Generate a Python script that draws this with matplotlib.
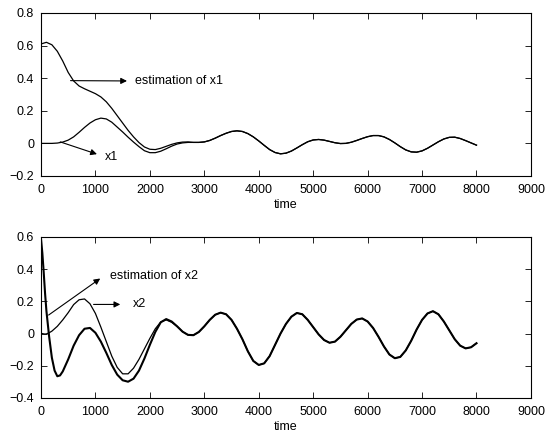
import matplotlib
matplotlib.use("Agg")
import matplotlib.pyplot as plt

plt.rcParams["font.family"] = ["Liberation Sans", "DejaVu Sans"]
plt.rcParams["font.size"] = 9

# upper plot: x1 and its estimate, sampled every 100 time units
t_top = list(range(0, 8001, 100))

tail_1 = [0.006, 0.006, 0.009, 0.018, 0.032, 0.048, 0.062, 0.073, 0.077, 0.073,
          0.060, 0.040, 0.015, -0.012, -0.038, -0.056, -0.064, -0.060, -0.047,
          -0.028, -0.008, 0.010, 0.021, 0.024, 0.020, 0.012, 0.004, -0.001, 0.000,
          0.007, 0.018, 0.030, 0.041, 0.048, 0.048, 0.040, 0.024, 0.003, -0.020,
          -0.040, -0.052, -0.054, -0.046, -0.030, -0.010, 0.010, 0.027, 0.037,
          0.038, 0.030, 0.017, 0.003, -0.011]

x1 = [0.0, 0.0, 0.0, 0.002, 0.008, 0.020, 0.040, 0.068, 0.098, 0.125, 0.145,
      0.155, 0.150, 0.130, 0.100, 0.070, 0.038, 0.008, -0.020, -0.045, -0.057,
      -0.057, -0.048, -0.033, -0.017, -0.004, 0.003, 0.006] + tail_1

est_x1 = [0.61, 0.62, 0.605, 0.565, 0.505, 0.435, 0.383, 0.352, 0.335, 0.32, 0.305,
          0.285, 0.255, 0.215, 0.17, 0.125, 0.08, 0.04, 0.005, -0.022, -0.036,
          -0.038, -0.030, -0.018, -0.006, 0.003, 0.008, 0.009] + tail_1

# lower plot: x2 and its estimate, finer steps at the start
t_bot = [0, 25, 50, 75, 100, 150, 200, 250, 300, 350, 400] + list(range(500, 8001, 100))

tail_2 = [0.045, 0.012, -0.008, -0.010, 0.010, 0.045, 0.085, 0.117, 0.130, 0.120,
          0.085, 0.030, -0.035, -0.110, -0.170, -0.195, -0.185, -0.140, -0.070,
          0.000, 0.060, 0.105, 0.128, 0.120, 0.085, 0.040, -0.005, -0.040, -0.057,
          -0.050, -0.020, 0.020, 0.060, 0.087, 0.094, 0.075, 0.035, -0.020, -0.080,
          -0.130, -0.153, -0.145, -0.105, -0.045, 0.025, 0.085, 0.125, 0.139, 0.120,
          0.075, 0.020, -0.035, -0.075, -0.092, -0.085, -0.060]

x2 = [0.0, 0.0, -0.002, -0.003, -0.002, 0.005, 0.015, 0.030, 0.045, 0.065, 0.085,
      0.130, 0.180, 0.210, 0.215, 0.185, 0.125, 0.040, -0.050, -0.140, -0.210,
      -0.250, -0.250, -0.215, -0.160, -0.095, -0.030, 0.030, 0.072, 0.085, 0.070] + tail_2

est_x2 = [0.59, 0.50, 0.38, 0.25, 0.14, -0.02, -0.15, -0.23, -0.265, -0.26, -0.235,
          -0.16, -0.075, -0.01, 0.03, 0.035, 0.005, -0.05, -0.12, -0.195, -0.255,
          -0.29, -0.299, -0.28, -0.23, -0.155, -0.07, 0.01, 0.07, 0.09, 0.075] + tail_2

fig = plt.figure(figsize=(5.45, 4.34), dpi=100)
ax1 = fig.add_axes([0.0752, 0.5945, 0.899, 0.3756])
ax2 = fig.add_axes([0.0752, 0.083, 0.899, 0.371])

ax1.plot(t_top, est_x1, color="k", lw=0.9)
ax1.plot(t_top, x1, color="k", lw=0.9)
ax2.plot(t_bot, est_x2, color="k", lw=1.5)
ax2.plot(t_bot, x2, color="k", lw=0.9)

arrow = dict(arrowstyle="-|>", color="k", lw=0.8, mutation_scale=9, shrinkA=0, shrinkB=0)
ax1.annotate("", xy=(1580, 0.383), xytext=(543, 0.385), arrowprops=arrow)
ax1.text(1730, 0.383, "estimation of x1", va="center")
ax1.annotate("", xy=(1028, -0.066), xytext=(354, 0.009), arrowprops=arrow)
ax1.text(1168, -0.083, "x1", va="center")

ax2.annotate("", xy=(1088, 0.342), xytext=(140, 0.115), arrowprops=arrow)
ax2.text(1259, 0.356, "estimation of x2", va="center")
ax2.annotate("", xy=(1456, 0.181), xytext=(966, 0.181), arrowprops=arrow)
ax2.text(1688, 0.181, "x2", va="center")

for ax, lo, hi in [(ax1, -0.2, 0.8), (ax2, -0.4, 0.6)]:
    ax.set_xlim(0, 9000)
    ax.set_ylim(lo, hi)
    ax.set_xticks(range(0, 9001, 1000))
    ax.set_yticks([round(lo + 0.2 * i, 1) for i in range(6)])
    ax.set_yticklabels(["0" if abs(v) < 1e-9 else ("%g" % v).replace("-", "\u2212")
                        for v in ax.get_yticks()])
    ax.tick_params(direction="in", top=True, right=True, length=4, width=0.6, pad=5)
    ax.tick_params(axis="x", pad=6)
    for s in ax.spines.values():
        s.set_linewidth(0.8)
    ax.set_xlabel("time", labelpad=2)

fig.savefig("out.png", dpi=100)
